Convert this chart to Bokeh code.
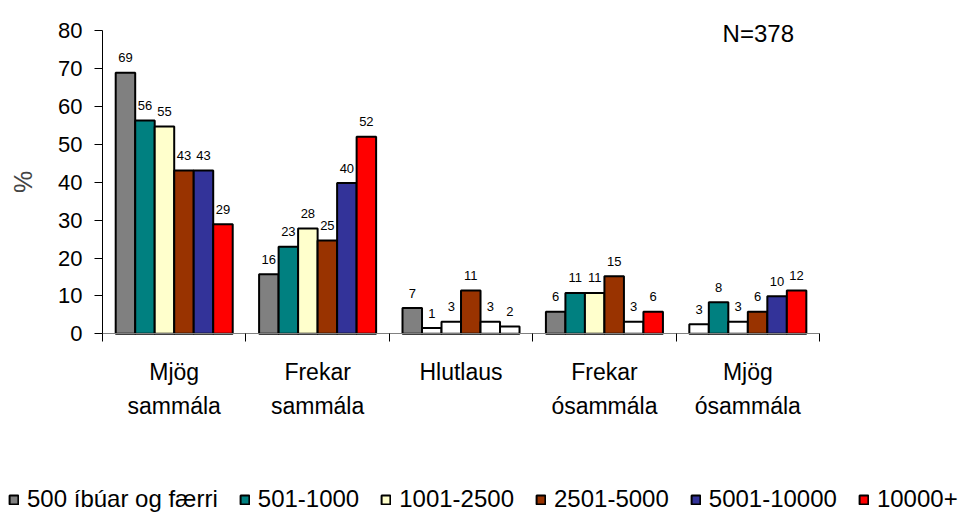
from bokeh.plotting import figure
from bokeh.models import (ColumnDataSource, FixedTicker, Legend, LegendItem, Label)
from bokeh.core.properties import value
from bokeh.embed import file_html
from bokeh.resources import INLINE

categories = ["Mjög\nsammála", "Frekar\nsammála", "Hlutlaus", "Frekar\nósammála", "Mjög\nósammála"]
series_names = ["500 íbúar og færri", "501-1000", "1001-2500", "2501-5000", "5001-10000", "10000+"]
series_colors = ["#808080", "#008080", "#FFFFCC", "#993300", "#333399", "#FF0000"]

v_500 = [68.9, 15.7, 6.8, 5.8, 2.5]
v_501 = [56.3, 23.0, 1.5, 10.8, 8.3]
v_1001 = [54.7, 27.8, 3.2, 10.8, 3.2]
v_2501 = [43.1, 24.6, 11.4, 15.2, 5.8]
v_5001 = [43.1, 39.8, 3.2, 3.2, 9.9]
v_10000 = [28.9, 52.0, 1.9, 5.8, 11.4]

lab_500 = ["69", "16", "7", "6", "3"]
lab_501 = ["56", "23", "1", "11", "8"]
lab_1001 = ["55", "28", "3", "11", "3"]
lab_2501 = ["43", "25", "11", "15", "6"]
lab_5001 = ["43", "40", "3", "3", "10"]
lab_10000 = ["29", "52", "2", "6", "12"]

# bars drawn white in the original
white_500 = [False, False, False, False, True]
white_501 = [False, False, True, False, False]
white_1001 = [False, False, True, False, True]
white_2501 = [False, False, False, False, False]
white_5001 = [False, False, True, True, False]
white_10000 = [False, False, True, False, False]

y_ticks = [0, 10, 20, 30, 40, 50, 60, 70, 80]
n_text = "N=378"

all_vals = [v_500, v_501, v_1001, v_2501, v_5001, v_10000]
all_labs = [lab_500, lab_501, lab_1001, lab_2501, lab_5001, lab_10000]
all_white = [white_500, white_501, white_1001, white_2501, white_5001, white_10000]

FONT = "Liberation Sans"
BAR_W = 0.136
W, H = 960, 513

# frame covers the whole canvas; axes are pinned at x=0 / y=0
p = figure(width=W, height=H, x_range=(-0.7113, 5.983), y_range=(-47.45, 88.0),
           output_backend="svg", toolbar_location=None,
           min_border_left=0, min_border_right=0, min_border_top=0,
           min_border_bottom=0)
p.outline_line_color = None
p.xgrid.grid_line_color = None
p.ygrid.grid_line_color = None
p.background_fill_color = "white"

n_series = len(series_names)
items = []
for j in range(n_series):
    xs = [i + 0.5 + (j - (n_series - 1) / 2) * BAR_W for i in range(len(categories))]
    fills = ["#FFFFFF" if w else series_colors[j] for w in all_white[j]]
    src = ColumnDataSource(dict(x=xs, top=all_vals[j], fill=fills, lab=all_labs[j]))
    r = p.vbar(x="x", top="top", bottom=0, width=BAR_W, fill_color="fill",
               line_color="black", line_width=2, source=src)
    p.text(x="x", y="top", text="lab", source=src, text_align="center",
           text_baseline="alphabetic", y_offset=-15, text_font=value(FONT),
           text_font_size="13px", text_color="black")
    items.append(LegendItem(label=series_names[j], renderers=[r], index=0))

# y axis
ya = p.yaxis[0]
ya.fixed_location = 0
ya.bounds = (0, 80)
ya.ticker = FixedTicker(ticks=y_ticks)
ya.axis_line_color = "black"
ya.major_tick_line_color = "black"
ya.major_tick_out = 8
ya.major_tick_in = 0
ya.minor_tick_line_color = None
ya.major_label_standoff = 12
ya.major_label_text_font = FONT
ya.major_label_text_font_size = "22px"
ya.major_label_text_color = "black"
ya.axis_label = "%"
ya.axis_label_text_font = FONT
ya.axis_label_text_font_size = "25px"
ya.axis_label_text_font_style = "normal"
ya.axis_label_standoff = 18

# x axis: labels at category centres, ticks at category boundaries
xa = p.xaxis[0]
xa.fixed_location = 0
xa.bounds = (0, 5)
xa.ticker = FixedTicker(ticks=[i + 0.5 for i in range(len(categories))],
                        minor_ticks=list(range(len(categories) + 1)))
xa.major_label_overrides = {i + 0.5: c for i, c in enumerate(categories)}
xa.axis_line_color = "#808080"
xa.major_tick_line_color = None
xa.major_tick_out = 0
xa.major_tick_in = 0
xa.minor_tick_line_color = "black"
xa.minor_tick_out = 8
xa.minor_tick_in = 0
xa.major_label_standoff = 17
xa.major_label_text_font = FONT
xa.major_label_text_font_size = "23px"
xa.major_label_text_color = "black"
xa.major_label_text_line_height = 1.3

p.add_layout(Label(x=4.324, y=79.3, text=n_text, text_font=FONT, text_font_size="24px",
                   text_align="left", text_baseline="alphabetic", text_color="black"))

legend = Legend(items=items, orientation="horizontal", location=(8, 0))
legend.border_line_color = None
legend.background_fill_alpha = 0
legend.padding = 0
legend.margin = 0
legend.spacing = 21
legend.glyph_width = 11
legend.glyph_height = 11
legend.label_standoff = 8
legend.label_text_font = FONT
legend.label_text_font_size = "24px"
legend.label_text_color = "black"
p.add_layout(legend, "center")

open("out.html", "w").write(file_html(p, INLINE))
